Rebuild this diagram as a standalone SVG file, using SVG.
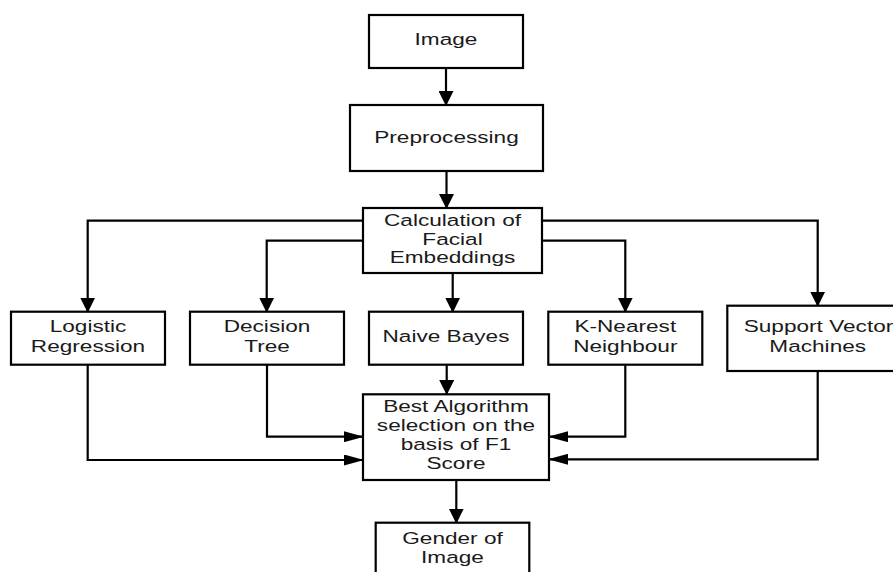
<svg xmlns="http://www.w3.org/2000/svg" width="893" height="572" viewBox="0 0 893 572">
<style>
.box{fill:#fff;stroke:#000;stroke-width:2.2}
.t{font-family:"Liberation Sans",Arial,sans-serif;font-size:17px;fill:#1a1a1a;text-anchor:middle}
.v{fill:none;stroke:#000;stroke-width:2.2;marker-end:url(#av)}
.h{fill:none;stroke:#000;stroke-width:2.2;marker-end:url(#ah)}
</style>
<defs>
<marker id="av" viewBox="0 0 15 15" refX="14" refY="7.5" markerWidth="15" markerHeight="15" markerUnits="userSpaceOnUse" orient="auto">
<path d="M0,0 L15,7.5 L0,15 z" fill="#000"/>
</marker>
<marker id="ah" viewBox="0 0 20 11" refX="19" refY="5.5" markerWidth="20" markerHeight="11" markerUnits="userSpaceOnUse" orient="auto">
<path d="M0,0 L20,5.5 L0,11 z" fill="#000"/>
</marker>
</defs>
<rect width="893" height="572" fill="#fff"/>
<g id="connectors">
<path class="v" d="M446,68 V105"/>
<path class="v" d="M446.5,171 V208"/>
<path class="v" d="M363,220.7 H87.7 V311.7"/>
<path class="v" d="M363,240.7 H266.7 V311.7"/>
<path class="v" d="M452.7,273 V311.7"/>
<path class="v" d="M542,240.7 H625.3 V311.7"/>
<path class="v" d="M542,220.7 H817.7 V305.7"/>
<path class="v" d="M446.7,365 V394"/>
<path class="h" d="M87.7,365 V460 H363"/>
<path class="h" d="M267,365 V436.7 H363"/>
<path class="h" d="M625.3,365 V436.7 H549"/>
<path class="h" d="M817.7,371 V459.3 H549"/>
<path class="v" d="M456.3,480 V522.7"/>
</g>
<g id="image">
<rect class="box" x="369" y="15" width="154" height="53"/>
<text class="t" transform="translate(446,44.5) scale(1.33,1)">Image</text>
</g>
<g id="preprocessing">
<rect class="box" x="350" y="105" width="193" height="66"/>
<text class="t" transform="translate(446.5,143) scale(1.33,1)">Preprocessing</text>
</g>
<g id="calc">
<rect class="box" x="363" y="208" width="179" height="65"/>
<text class="t" transform="translate(452.5,225.7) scale(1.33,1)">Calculation of</text>
<text class="t" transform="translate(452.5,244.5) scale(1.33,1)">Facial</text>
<text class="t" transform="translate(452.5,263.3) scale(1.33,1)">Embeddings</text>
</g>
<g id="lr">
<rect class="box" x="11" y="311.7" width="154" height="53"/>
<text class="t" transform="translate(88,332.3) scale(1.33,1)">Logistic</text>
<text class="t" transform="translate(88,351.7) scale(1.33,1)">Regression</text>
</g>
<g id="dt">
<rect class="box" x="190" y="311.7" width="154" height="53"/>
<text class="t" transform="translate(267,332.3) scale(1.33,1)">Decision</text>
<text class="t" transform="translate(267,351.7) scale(1.33,1)">Tree</text>
</g>
<g id="nb">
<rect class="box" x="369" y="311.7" width="154" height="53"/>
<text class="t" transform="translate(446,342) scale(1.33,1)">Naive Bayes</text>
</g>
<g id="knn">
<rect class="box" x="548.3" y="311.7" width="154" height="53"/>
<text class="t" transform="translate(625.3,332.3) scale(1.33,1)">K-Nearest</text>
<text class="t" transform="translate(625.3,351.7) scale(1.33,1)">Neighbour</text>
</g>
<g id="svm">
<rect class="box" x="727.3" y="305.7" width="181" height="65.3"/>
<text class="t" transform="translate(818.5,332.3) scale(1.33,1)">Support Vector</text>
<text class="t" transform="translate(817.7,351.7) scale(1.33,1)">Machines</text>
</g>
<g id="best">
<rect class="box" x="363" y="394.3" width="186" height="85.7"/>
<text class="t" transform="translate(456,411.7) scale(1.33,1)">Best Algorithm</text>
<text class="t" transform="translate(456,430.7) scale(1.33,1)">selection on the</text>
<text class="t" transform="translate(456,449.5) scale(1.33,1)">basis of F1</text>
<text class="t" transform="translate(456,468.7) scale(1.33,1)">Score</text>
</g>
<g id="gender">
<rect class="box" x="375.7" y="522.7" width="153.6" height="66"/>
<text class="t" transform="translate(452.5,544.3) scale(1.33,1)">Gender of</text>
<text class="t" transform="translate(452.5,563.3) scale(1.33,1)">Image</text>
</g>
</svg>
